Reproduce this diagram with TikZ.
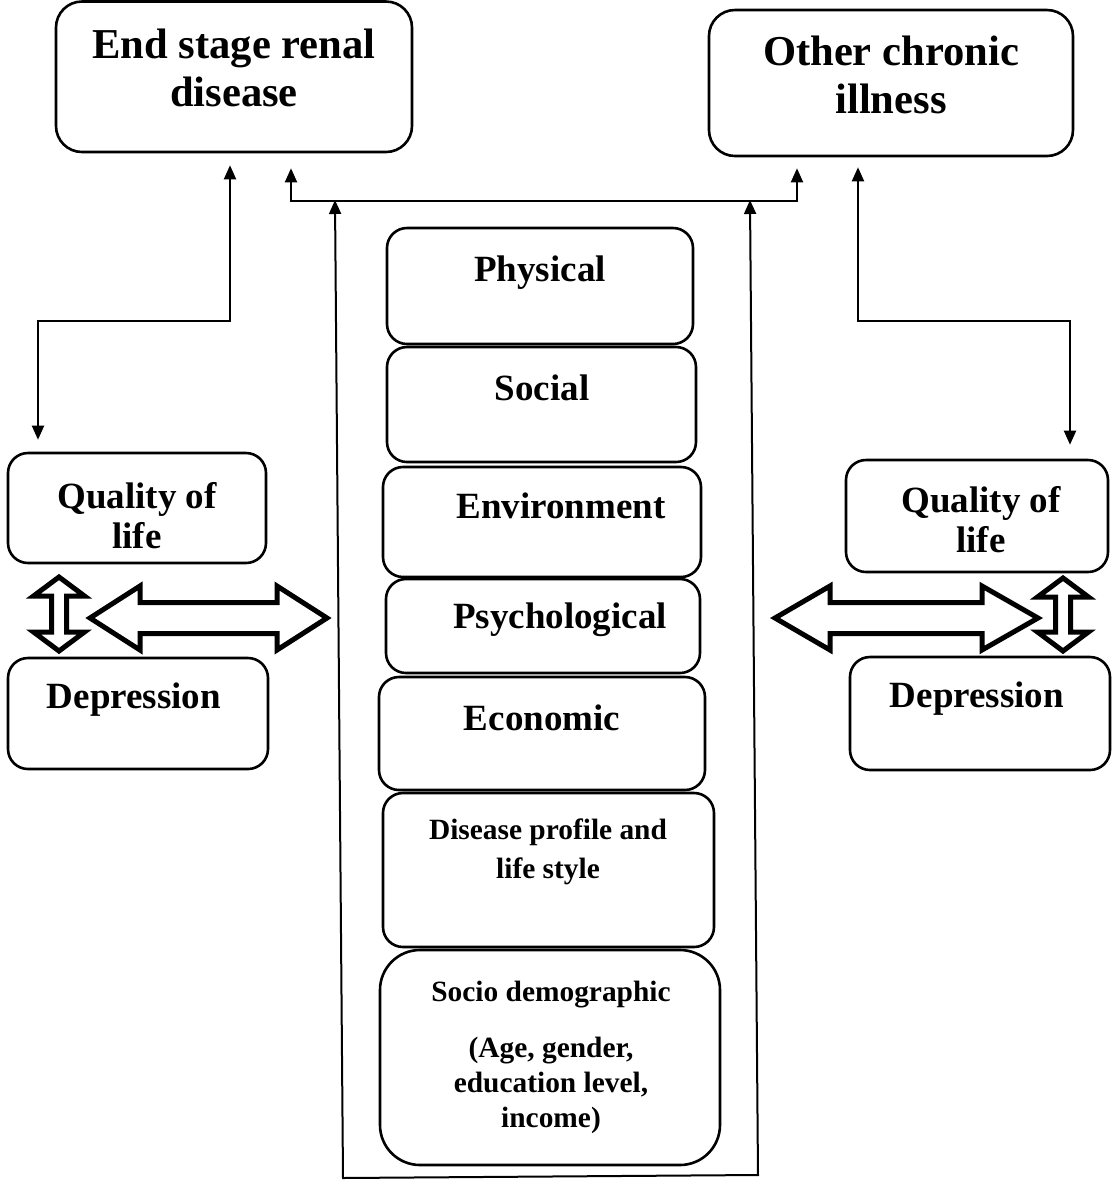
\documentclass[tikz,border=0pt]{standalone}
\usepackage{fontspec}
\setmainfont{Liberation Serif}
\usetikzlibrary{arrows.meta,calc,fit}

\tikzset{
  box/.style={draw, line width=1.3pt, rounded corners=10pt, inner sep=0pt},
  heading/.style={font=\fontsize{21.3}{24}\selectfont\bfseries, align=center, anchor=base},
  lbl/.style={font=\fontsize{18.5}{20}\selectfont\bfseries, align=center, anchor=base},
  lblsmall/.style={font=\fontsize{14.7}{19.5}\selectfont\bfseries, align=center, anchor=base},
  link/.style={line width=1pt, {Triangle[length=7pt,width=6pt]}-{Triangle[length=7pt,width=6pt]}},
  blockarrow/.style={draw, line width=2.5pt, line join=miter, miter limit=10}
}

\begin{document}
\begin{tikzpicture}[x=0.5pt,y=-0.5pt]
	\useasboundingbox (0,0) rectangle (1112,1180);

	% outcome boxes (multi-line labels sit on their last baseline)
	\node[box, rounded corners=13pt, fit={(56,1.5) (412,152)}]  (esrd)  {};
	\node[box, rounded corners=13pt, fit={(709,10) (1073,156)}] (other) {};
	\node[heading] at (234,106) {End stage renal\\disease};
	\node[heading] at (891,113) {Other chronic\\illness};

	% quality of life / depression
	\node[box, fit={(8,453) (266,563)}]    (qolL) {};
	\node[box, fit={(8,658) (268,769)}]    (depL) {};
	\node[box, fit={(846,460) (1108,572)}] (qolR) {};
	\node[box, fit={(850,657) (1110,770)}] (depR) {};
	\node[lbl] at (137,548) {Quality of\\life};
	\node[lbl] at (134,708) {Depression};
	\node[lbl] at (981,552) {Quality of\\life};
	\node[lbl] at (977,707) {Depression};

	% factors
	\node[box, fit={(387,228) (693,344)}]  (phys)  {};
	\node[box, fit={(387,347) (696,462)}]  (soc)   {};
	\node[box, fit={(383,467) (701,577)}]  (env)   {};
	\node[box, fit={(386,579) (700,673)}]  (psy)   {};
	\node[box, fit={(379,677) (705,790)}]  (eco)   {};
	\node[box, fit={(383,793) (714,947)}]  (dis)   {};
	\node[box, rounded corners=20pt, fit={(380,950) (720,1165)}] (socio) {};
	\node[lbl] at (540,281) {Physical};
	\node[lbl] at (542,400) {Social};
	\node[lbl] at (561,518) {Environment};
	\node[lbl] at (560,628) {Psychological};
	\node[lbl] at (542,730) {Economic};
	\node[lblsmall] at (548,878) {Disease profile and\\life style};
	\node[lblsmall] at (551,1001) {Socio demographic};
	\node[lblsmall, font=\fontsize{14.7}{17.5}\selectfont\bfseries] at (551,1127) {(Age, gender,\\education level,\\income)};

	\coordinate (busL)  at (335,200);
	\coordinate (busR)  at (750,200);
	\coordinate (footL) at (343,1178);
	\coordinate (footR) at (758,1175);

	\draw[link, shorten <=6pt, shorten >=6pt] ($(esrd.south)+(-4,0)$) -- ++(0,168) -| ($(qolL.north)+(-99,0)$);
	\draw[link, shorten <=5pt, shorten >=7pt] ($(other.south)+(-33,0)$) -- ++(0,164) -| ($(qolR.north)+(93,0)$);
	\draw[link, shorten <=7.5pt, shorten >=5.5pt] ($(esrd.south)+(57,0)$) -- ++(0,48) -| ($(other.south)+(-94,0)$);
	\draw[link] (busL) -- (footL) -- (footR) -- (busR);

	% hollow double arrows
	\draw[blockarrow] (90,618) -- (140,586) -- (140,602.5) -- (277,602.5) -- (277,586) -- (327,618)
		-- (277,650) -- (277,633.5) -- (140,633.5) -- (140,650) -- cycle;
	\draw[blockarrow] (775,618) -- (830,586) -- (830,602.5) -- (982,602.5) -- (982,586) -- (1038,618)
		-- (982,650) -- (982,633.5) -- (830,633.5) -- (830,650) -- cycle;
	\draw[blockarrow] (59,577) -- (84.5,596) -- (66.5,596) -- (66.5,632) -- (84.5,632) -- (59,651)
		-- (33.5,632) -- (51.5,632) -- (51.5,596) -- (33.5,596) -- cycle;
	\draw[blockarrow] (1063,578) -- (1088.5,597) -- (1070.5,597) -- (1070.5,632) -- (1088.5,632) -- (1063,651)
		-- (1037.5,632) -- (1055.5,632) -- (1055.5,597) -- (1037.5,597) -- cycle;
\end{tikzpicture}
\end{document}
